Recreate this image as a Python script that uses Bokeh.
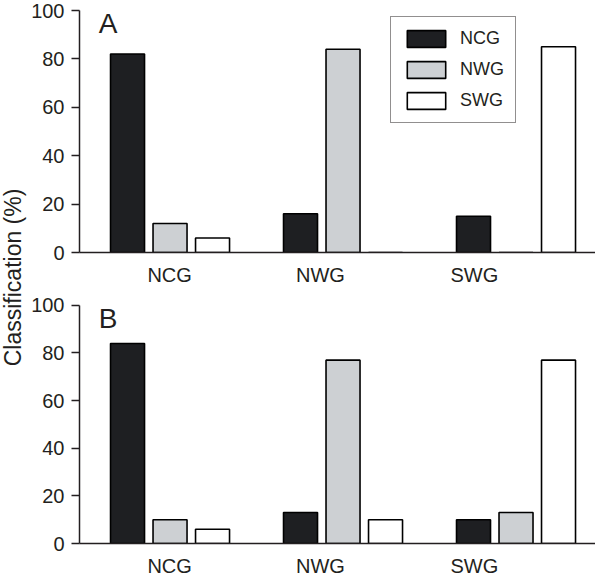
import math
import numpy as np
from bokeh.plotting import figure
from bokeh.layouts import row, column
from bokeh.models import Range1d, FixedTicker, Label, Legend, LegendItem
from bokeh.embed import file_html
from bokeh.resources import INLINE

# ---------------- data ----------------
groups = ["NCG", "NWG", "SWG"]          # x-axis categories (origin groups)
series = ["NCG", "NWG", "SWG"]          # classified-as series (legend)
y_ticks = [0, 20, 40, 60, 80, 100]

# Panel A: values per series, ordered by group
a_ncg = [82, 16, 15]
a_nwg = [12, 84, 0]
a_swg = [6, 0, 85]

# Panel B
b_ncg = [84, 13, 10]
b_nwg = [10, 77, 13]
b_swg = [6, 10, 77]

# ---------------- style ----------------
colors = ["#1e1f22", "#cdd0d3", "#ffffff"]
INK = "#231f20"
FONT = "Liberation Sans"
GROUP_SPACING = 4.07
BAR_WIDTH = 0.8
X_RANGE = (-1.13, 11.01)
Y_RANGE = (0, 103.3)
LABEL_POS = [0.99, 4.54, 8.16]   # where the category labels sit
PANEL_LABEL_XY = (-0.68, 94.6)


def make_panel(values, letter, frame_h, top_border, bottom_border, with_legend):
    p = figure(frame_width=516, frame_height=frame_h,
               x_range=Range1d(*X_RANGE), y_range=Range1d(*Y_RANGE),
               min_border_left=50, min_border_right=0,
               min_border_top=top_border, min_border_bottom=bottom_border,
               toolbar_location=None, output_backend="svg")
    p.outline_line_color = None
    p.grid.visible = False
    p.background_fill_color = "white"
    p.border_fill_color = "white"

    renderers = []
    gx = np.arange(len(groups)) * GROUP_SPACING
    for k, (vals, col) in enumerate(zip(values, colors)):
        r = p.vbar(x=gx + k, top=vals, bottom=0, width=BAR_WIDTH,
                   fill_color=col, line_color="black", line_width=1.6)
        renderers.append(r)

    # y axis
    ya = p.yaxis[0]
    ya.ticker = FixedTicker(ticks=y_ticks)
    ya.bounds = (0, 100)
    ya.axis_line_color = INK
    ya.axis_line_width = 1.5
    ya.major_tick_line_color = INK
    ya.major_tick_line_width = 1.5
    ya.major_tick_in = 0
    ya.major_tick_out = 8
    ya.minor_tick_line_color = None
    ya.major_label_standoff = 7
    ya.major_label_text_font = FONT
    ya.major_label_text_font_size = "20px"
    ya.major_label_text_color = INK

    # x axis
    xa = p.xaxis[0]
    xa.ticker = FixedTicker(ticks=LABEL_POS)
    xa.major_label_overrides = {t: g for t, g in zip(LABEL_POS, groups)}
    xa.axis_line_color = INK
    xa.axis_line_width = 1.5
    xa.major_tick_line_color = None
    xa.minor_tick_line_color = None
    xa.major_label_standoff = 5
    xa.major_label_text_font = FONT
    xa.major_label_text_font_size = "20px"
    xa.major_label_text_color = INK

    p.add_layout(Label(x=PANEL_LABEL_XY[0], y=PANEL_LABEL_XY[1], text=letter,
                       text_font=FONT, text_font_size="28px", text_color=INK,
                       text_baseline="alphabetic", text_align="left"))

    if with_legend:
        items = [LegendItem(label=s, renderers=[r]) for s, r in zip(series, renderers)]
        leg = Legend(items=items, location=(311, 129), orientation="vertical")
        leg.label_text_font = FONT
        leg.label_text_font_size = "18px"
        leg.label_text_color = INK
        leg.glyph_width = 48
        leg.glyph_height = 21
        leg.label_height = 21
        leg.label_standoff = 10
        leg.spacing = 10
        leg.padding = 11
        leg.margin = 0
        leg.border_line_color = INK
        leg.border_line_width = 1.5
        leg.background_fill_color = "white"
        leg.background_fill_alpha = 1
        p.add_layout(leg, "center")
    return p


pA = make_panel([a_ncg, a_nwg, a_swg], "A", 250, 2, 36, True)
pB = make_panel([b_ncg, b_nwg, b_swg], "B", 246, 9, 28, False)

# shared y-axis title in a narrow strip on the left
pL = figure(frame_width=28, frame_height=571, x_range=Range1d(0, 1), y_range=Range1d(0, 1),
            min_border=0, x_axis_location=None, y_axis_location=None,
            toolbar_location=None, output_backend="svg")
pL.outline_line_color = None
pL.grid.visible = False
pL.add_layout(Label(x=0.43, y=0.515, text="Classification (%)", angle=math.pi / 2,
                    text_font=FONT, text_font_size="23px", text_color=INK,
                    text_align="center", text_baseline="middle"))

layout = row(pL, column(pA, pB, spacing=0), spacing=0)

open("out.html", "w").write(file_html(layout, INLINE))
